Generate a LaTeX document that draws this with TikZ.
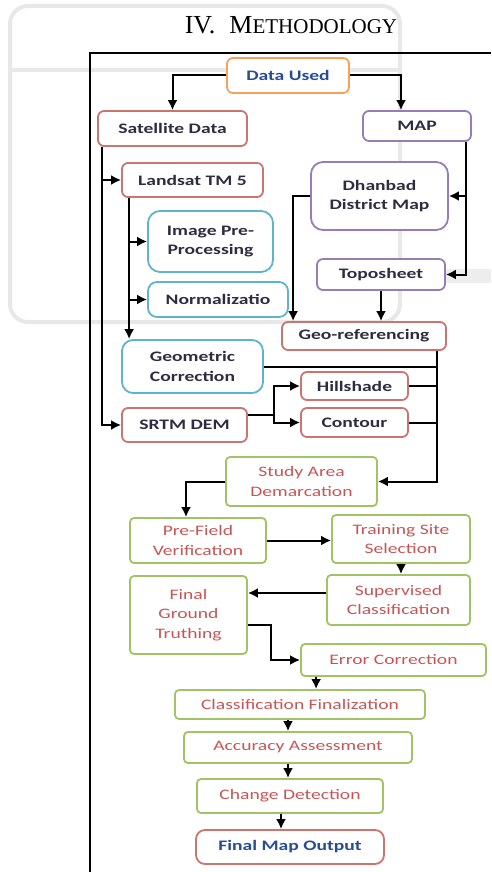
\documentclass[tikz,border=0pt]{standalone}
\usepackage{fontspec}
\setmainfont{Carlito}
\newfontfamily\boxfont[FakeStretch=1.35]{Carlito}
\newfontfamily\titlefont{Liberation Serif}
\usepackage{xcolor}
\usepackage{tikz}
\usetikzlibrary{arrows.meta}
\usetikzlibrary{calc}
\usetikzlibrary{positioning}

\definecolor{lineRed}{RGB}{205,115,112}
\definecolor{lineOrange}{RGB}{247,160,90}
\definecolor{linePurple}{RGB}{150,125,185}
\definecolor{lineCyan}{RGB}{95,180,205}
\definecolor{lineGreen}{RGB}{160,195,100}
\definecolor{textRed}{RGB}{200,85,85}
\definecolor{textBlue}{RGB}{40,75,150}
\definecolor{textDark}{RGB}{45,45,65}

\begin{document}
\begin{tikzpicture}
[
	x = 1pt, y = -1pt,
	box/.style = {rectangle, rounded corners = 6pt, draw, line width = 1.8pt, fill = white, inner sep = 0pt, align = center, font = \boxfont\fontsize{14.5}{19.5}\selectfont\bfseries, text = textDark},
	redbox/.style = {box, draw = lineRed},
	orangebox/.style = {box, draw = lineOrange, text = textBlue},
	purplebox/.style = {box, draw = linePurple},
	cyanbox/.style = {box, draw = lineCyan},
	greenbox/.style = {box, draw = lineGreen, rounded corners = 4pt, text = textRed, font = \boxfont\fontsize{14.5}{19.5}\selectfont},
	flow/.style = {draw, line width = 2pt, -{Latex[length = 10pt, width = 10pt]}},
	plain/.style = {draw, line width = 2pt},
	ghost/.style = {draw = black!9, line width = 4pt, rounded corners = 18pt},
]

	\useasboundingbox (0,0) rectangle (491,872);

	% faint marks of the page behind
	\draw [ghost] (10,6) rectangle (400,322);
	\draw [ghost] (12,70) -- (400,70);
	\draw [ghost, draw = black!7, line width = 14pt] (400,276) -- (491,276);

	% heading and frame
	\node (title) at (291,25) {\titlefont\fontsize{26}{26}\selectfont IV.\hspace{14pt}M{\fontsize{21}{21}\selectfont ETHODOLOGY}};
	\draw [line width = 1.8pt] (491,53) -- (90,53) -- (90,872);

	% data sources
	\node (used) [orangebox, minimum width = 122pt, minimum height = 35pt] at (288,75.5) {Data Used};
	\node (sat) [redbox, minimum width = 149pt, minimum height = 35pt] at (172.5,128.5) {Satellite Data};
	\node (map) [purplebox, minimum width = 108pt, minimum height = 30pt] at (417,126) {MAP};
	%
	\node (landsat) [redbox, minimum width = 141pt, minimum height = 34pt] at (192.5,180) {Landsat TM 5};
	\node (imgpre) [cyanbox, minimum width = 125pt, minimum height = 61pt, rounded corners = 12pt] at (210.5,241.5) {Image Pre-\\Processing};
	\node (norm) [cyanbox, minimum width = 140pt, minimum height = 35pt, rounded corners = 9pt] at (218,299.5) {Normalizatio};
	\node (geom) [cyanbox, minimum width = 141pt, minimum height = 53pt, rounded corners = 11pt] at (192.5,366.5) {Geometric\\Correction};
	\node (srtm) [redbox, minimum width = 125pt, minimum height = 34pt] at (184.5,425) {SRTM DEM};
	%
	\node (dhanbad) [purplebox, minimum width = 137pt, minimum height = 68pt, rounded corners = 12pt] at (379.5,196) {Dhanbad\\District Map};
	\node (topo) [purplebox, minimum width = 128pt, minimum height = 31pt] at (381,274.5) {Toposheet};
	\node (georef) [redbox, minimum width = 164pt, minimum height = 28pt] at (364,336) {Geo-referencing};
	\node (hill) [redbox, minimum width = 107pt, minimum height = 28pt] at (354.5,386) {Hillshade};
	\node (contour) [redbox, minimum width = 107pt, minimum height = 29pt] at (354.5,422.5) {Contour};

	% processing chain
	\node (study) [greenbox, minimum width = 151pt, minimum height = 49pt] at (301.5,481.5) {Study Area\\Demarcation};
	\node (prefield) [greenbox, minimum width = 136pt, minimum height = 45pt] at (198,540.5) {Pre-Field\\Verification};
	\node (training) [greenbox, minimum width = 138pt, minimum height = 48pt] at (401,539) {Training Site\\Selection};
	\node (superv) [greenbox, minimum width = 143pt, minimum height = 50pt] at (398.5,600) {Supervised\\Classification};
	\node (ground) [greenbox, minimum width = 117pt, minimum height = 78pt] at (188.5,615) {Final\\Ground\\Truthing};
	\node (error) [greenbox, minimum width = 185pt, minimum height = 32pt] at (393.5,660) {Error Correction};
	\node (finaliz) [greenbox, minimum width = 250pt, minimum height = 29pt] at (300,704.5) {Classification Finalization};
	\node (accuracy) [greenbox, minimum width = 228pt, minimum height = 31pt] at (298,747.5) {Accuracy Assessment};
	\node (change) [greenbox, minimum width = 186pt, minimum height = 34pt] at (290,796) {Change Detection};
	\node (output) [redbox, minimum width = 188pt, minimum height = 34pt, rounded corners = 9pt, text = textBlue] at (290,847) {Final Map Output};

	% paths -- data side
	\draw [flow] (used.west) -| (sat.north);
	\draw [flow] (used.east) -| ([xshift = -16pt]map.north);
	%
	\draw [flow] ([xshift = 5pt]sat.south west) |- (landsat.west);
	\draw [flow] ([xshift = 5pt]sat.south west) |- (srtm.west);
	%
	\draw [flow] ([xshift = 8pt]landsat.south west) |- (imgpre.west);
	\draw [flow] ([xshift = 8pt]landsat.south west) |- (norm.west);
	\draw [flow] ([xshift = 8pt]landsat.south west) -- ([xshift = 8pt]geom.north west);
	%
	\draw [flow] ([xshift = -6pt]map.south east) |- (dhanbad.east);
	\draw [flow] ([xshift = -6pt]map.south east) |- (topo.east);
	\draw [flow] (dhanbad.west) -| ([xshift = 12pt]georef.north west);
	\draw [flow] (topo.south) -- (topo.south |- georef.north);
	%
	\draw [flow] ([yshift = 10pt]srtm.east) -- ++(26,0) |- (hill.west);
	\draw [flow] ([yshift = 10pt]srtm.east) -- ++(26,0) |- (contour.west);

	% collecting line
	\coordinate (bus) at ([xshift = -10pt]georef.south east);
	\draw [plain] (geom.east) -- (geom.east -| bus);
	\draw [plain] (hill.east) -- (hill.east -| bus);
	\draw [plain] (contour.east) -- (contour.east -| bus);
	\draw [flow] (bus) |- (study.east);

	% paths -- classification
	\draw [flow] (study.west) -| ([xshift = -12pt]prefield.north);
	\draw [flow] (prefield.east) -- (prefield.east -| training.west);
	\draw [flow] (training.south) -- (training.south |- superv.north);
	\draw [flow] ([yshift = 7pt]superv.west) -- ([yshift = 7pt]superv.west -| ground.east);
	\draw [flow] ([yshift = -10pt]ground.east) -- ++(23,0) |- (error.west);
	\draw [flow] ([xshift = 16pt]error.south west) -- ([xshift = 16pt]error.south west |- finaliz.north);
	\draw [flow] ([xshift = -12pt]finaliz.south) -- ([xshift = -12pt]finaliz.south |- accuracy.north);
	\draw [flow] ([xshift = -10pt]accuracy.south) -- ([xshift = -10pt]accuracy.south |- change.north);
	\draw [flow] ([xshift = -9pt]change.south) -- ([xshift = -9pt]change.south |- output.north);

\end{tikzpicture}
\end{document}
